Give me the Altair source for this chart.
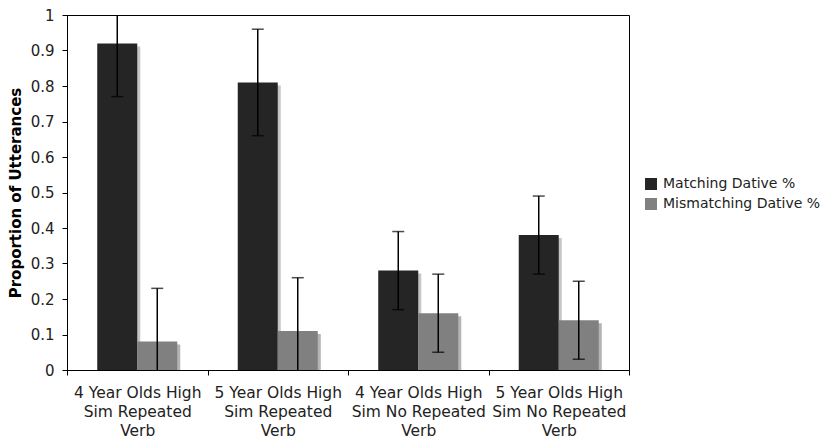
import altair as alt
import pandas as pd

groups = [
    "4 Year Olds High\nSim Repeated\nVerb",
    "5 Year Olds High\nSim Repeated\nVerb",
    "4 Year Olds High\nSim No Repeated\nVerb",
    "5 Year Olds High\nSim No Repeated\nVerb",
]
series = ["Matching Dative %", "Mismatching Dative %"]
matching = [0.92, 0.81, 0.28, 0.38]
matching_lo = [0.77, 0.66, 0.17, 0.27]
matching_hi = [1.07, 0.96, 0.39, 0.49]
mismatching = [0.08, 0.11, 0.16, 0.14]
mismatching_lo = [-0.07, -0.04, 0.05, 0.03]
mismatching_hi = [0.23, 0.26, 0.27, 0.25]
y_ticks = [0, 0.1, 0.2, 0.3, 0.4, 0.5, 0.6, 0.7, 0.8, 0.9, 1]
colors = ["#252525", "#808080"]
shadow_colors = ["#c6c6c6", "#b4b4b4"]

rows = []
for i, g in enumerate(groups):
    rows.append({"group": g, "series": series[0], "value": matching[i],
                 "lo": matching_lo[i], "hi": matching_hi[i]})
    rows.append({"group": g, "series": series[1], "value": mismatching[i],
                 "lo": mismatching_lo[i], "hi": mismatching_hi[i]})
df = pd.DataFrame(rows)

FONT = "DejaVu Sans"

xaxis = alt.Axis(
    title=None, labelAngle=0, labelExpr="split(datum.label, '\\n')",
    tickBand="extent", labelFont=FONT, labelFontSize=15.5, labelColor="#222",
    labelPadding=10, tickSize=5, tickColor="#000", domainColor="#000",
    labelLineHeight=19,
)
yaxis = alt.Axis(
    title="Proportion of Utterances", values=y_ticks, labelOverlap=False,
    labelExpr="datum.value == 0 ? '0' : datum.value == 1 ? '1' : format(datum.value, '.1f')",
    grid=False, labelFont=FONT, labelFontSize=15, labelColor="#222",
    titleFont=FONT, titleFontSize=15, titleFontWeight="bold", titleColor="#000",
    tickSize=5, tickColor="#000", domainColor="#000", labelPadding=8, titlePadding=7,
)
xscale = alt.Scale(paddingInner=0, paddingOuter=0)
yscale = alt.Scale(domain=[0, 1], nice=False, zero=True)

x = alt.X("group:N", sort=groups, scale=xscale, axis=xaxis)
xo = alt.XOffset("series:N", sort=series,
                 scale=alt.Scale(paddingInner=0, paddingOuter=0.756))
xo_shadow = alt.XOffset("series:N", sort=series,
                        scale=alt.Scale(paddingInner=0, paddingOuter=0.756, align=0.55))


def yq(field):
    return alt.Y(f"{field}:Q", scale=yscale, axis=yaxis)


base = alt.Chart(df)

shadow = base.mark_bar(yOffset=3, clip=True).encode(
    x=x, xOffset=xo_shadow, y=yq("value"),
    fill=alt.Fill("series:N", scale=alt.Scale(domain=series, range=shadow_colors), legend=None),
)

bars = base.mark_bar().encode(
    x=x, xOffset=xo, y=yq("value"),
    color=alt.Color("series:N", sort=series,
                    scale=alt.Scale(domain=series, range=colors),
                    legend=alt.Legend(title=None, orient="none", legendX=577, legendY=162,
                                      symbolType="square", symbolSize=144, symbolStrokeWidth=0,
                                      labelFont=FONT, labelFontSize=14, labelColor="#222",
                                      labelLimit=400, rowPadding=6, labelOffset=5)),
)

rule = base.mark_rule(color="#000", strokeWidth=1.5, clip=True).encode(
    x=x, xOffset=xo, y=yq("lo"), y2="hi:Q",
)
cap_lo = base.mark_tick(color="#000", thickness=1.5, size=12, clip=True).encode(
    x=x, xOffset=xo, y=yq("lo"),
)
cap_hi = base.mark_tick(color="#000", thickness=1.5, size=12, clip=True).encode(
    x=x, xOffset=xo, y=yq("hi"),
)

chart = alt.layer(shadow, bars, rule, cap_lo, cap_hi).resolve_scale(
    fill="independent", color="independent", xOffset="independent"
).properties(
    width=562, height=355,
    autosize=alt.AutoSizeParams(type="none"),
    padding={"left": 59, "top": 7, "right": 203, "bottom": 72},
).configure_view(stroke="#000", strokeWidth=1).configure_axis(domainWidth=1)

chart.save("out.html", embed_options={"renderer": "svg", "actions": False})
